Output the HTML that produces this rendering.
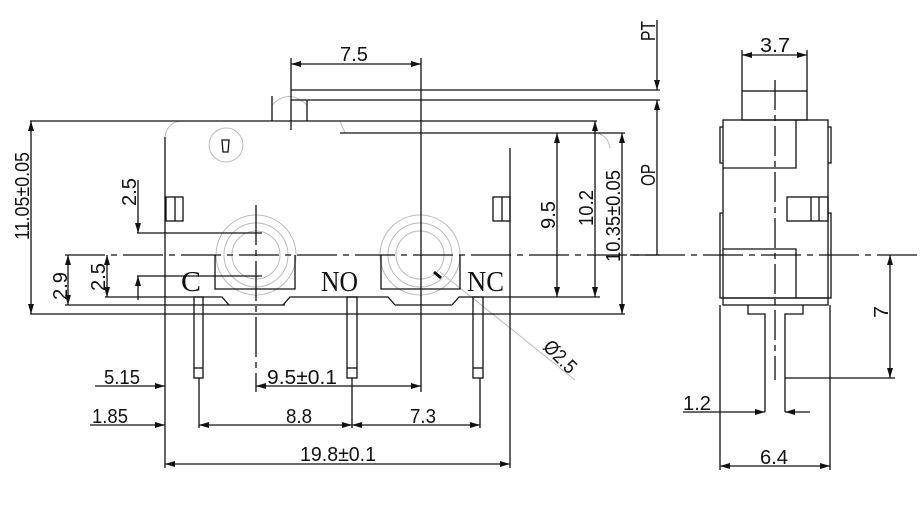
<!DOCTYPE html>
<html><head><meta charset="utf-8"><style>
html,body{margin:0;padding:0;background:#fff;}
svg{display:block;}
text{font-family:"Liberation Sans",sans-serif;font-size:20px;fill:#111;}
text.L{font-family:"Liberation Serif",serif;font-size:28px;}
</style></head><body>
<svg width="920" height="505" viewBox="0 0 920 505" xmlns="http://www.w3.org/2000/svg">
<defs>
<marker id="a" viewBox="0 0 10 6" refX="10" refY="3" markerWidth="10" markerHeight="6" orient="auto-start-reverse" markerUnits="userSpaceOnUse"><path d="M0,0 L10,3 L0,6 z" fill="#111"/></marker>
</defs>
<g stroke="#111" stroke-width="1.3" fill="none">
<g stroke="#bbb" stroke-width="1">
<circle cx="256" cy="255" r="40"/><circle cx="256" cy="255" r="32"/><circle cx="256" cy="255" r="24"/>
<circle cx="420" cy="255" r="40"/><circle cx="420" cy="255" r="32"/><circle cx="420" cy="255" r="24"/>
<circle cx="226" cy="145" r="17"/>
<line x1="440" y1="272" x2="575" y2="380"/>
<path d="M165,137 Q167,123 180,121"/><path d="M340,121 L345,133"/><path d="M597,133 Q608,136 610,148"/>
<path d="M272,105 Q289,88 307,105"/>
</g>
<path d="M222,140 L229,140 L228,152 L223,152 Z"/>
<line x1="30" y1="121" x2="597" y2="121"/>
<line x1="340" y1="133" x2="625" y2="133"/>
<line x1="165" y1="137" x2="165" y2="468"/>
<line x1="510" y1="148" x2="510" y2="468"/>
<path d="M272,121 V96 M307,121 V100"/>
<line x1="291" y1="90" x2="660" y2="90"/>
<line x1="291" y1="100" x2="660" y2="100"/>
<line x1="291" y1="58" x2="291" y2="130"/>
<line x1="421" y1="58" x2="421" y2="392"/>
<line x1="291" y1="64" x2="421" y2="64" marker-start="url(#a)" marker-end="url(#a)"/>
<rect x="166" y="197" width="17" height="24"/><line x1="175" y1="197" x2="175" y2="221"/>
<rect x="493" y="197" width="17" height="24"/><line x1="502" y1="197" x2="502" y2="221"/>
<path d="M215,255 V289 H295 V255"/>
<path d="M381,255 V289 H460 V255"/>
<path d="M105,297 H222 L229,305 M283,305 L290,297 H388 L395,305 M452,305 L459,297 H600"/>
<line x1="65" y1="305" x2="285" y2="305"/>
<line x1="395" y1="305" x2="452" y2="305"/>
<line x1="30" y1="314" x2="625" y2="314"/>
<rect x="194" y="297" width="9" height="81"/><line x1="194" y1="368" x2="203" y2="368"/>
<rect x="347" y="297" width="10" height="81"/><line x1="347" y1="368" x2="357" y2="368"/>
<rect x="473" y="297" width="10" height="81"/><line x1="473" y1="368" x2="483" y2="368"/>
<line x1="65" y1="255" x2="920" y2="255" stroke-dasharray="40,6,6,6"/>
<line x1="256" y1="205" x2="256" y2="392" stroke-dasharray="40,5,6,5"/>
<line x1="775" y1="80" x2="775" y2="380" stroke-dasharray="30,5,6,5"/>
<line x1="31" y1="121" x2="31" y2="314" marker-start="url(#a)" marker-end="url(#a)"/>
<line x1="68" y1="255" x2="68" y2="305" marker-start="url(#a)" marker-end="url(#a)"/>
<line x1="107" y1="255" x2="107" y2="297" marker-start="url(#a)" marker-end="url(#a)"/>
<line x1="137" y1="233" x2="262" y2="233"/>
<line x1="137" y1="276" x2="262" y2="276"/>
<line x1="138" y1="180" x2="138" y2="233" marker-end="url(#a)"/>
<line x1="138" y1="300" x2="138" y2="276" marker-end="url(#a)"/>
<line x1="557" y1="133" x2="557" y2="297" marker-start="url(#a)" marker-end="url(#a)"/>
<line x1="595" y1="121" x2="595" y2="297" marker-start="url(#a)" marker-end="url(#a)"/>
<line x1="622" y1="133" x2="622" y2="314" marker-start="url(#a)" marker-end="url(#a)"/>
<line x1="657" y1="20" x2="657" y2="90" marker-end="url(#a)"/>
<line x1="657" y1="255" x2="657" y2="100" marker-end="url(#a)"/>
<line x1="630" y1="255" x2="660" y2="255"/>
<line x1="199" y1="378" x2="199" y2="428"/>
<line x1="352" y1="378" x2="352" y2="428"/>
<line x1="480" y1="378" x2="480" y2="428"/>
<line x1="95" y1="386" x2="165" y2="386" marker-end="url(#a)"/>
<line x1="256" y1="386" x2="421" y2="386" marker-start="url(#a)" marker-end="url(#a)"/>
<line x1="90" y1="425" x2="165" y2="425" marker-end="url(#a)"/>
<line x1="199" y1="425" x2="352" y2="425" marker-start="url(#a)" marker-end="url(#a)"/>
<line x1="352" y1="425" x2="480" y2="425" marker-start="url(#a)" marker-end="url(#a)"/>
<line x1="165" y1="464" x2="510" y2="464" marker-start="url(#a)" marker-end="url(#a)"/>
<path d="M434,272 L441,278" stroke-width="3"/>
<rect x="742" y="91" width="65" height="29"/>
<line x1="742" y1="50" x2="742" y2="91"/><line x1="807" y1="50" x2="807" y2="91"/>
<line x1="742" y1="55" x2="807" y2="55" marker-start="url(#a)" marker-end="url(#a)"/>
<rect x="723" y="120" width="105" height="178"/>
<path d="M723,168 H796 V120"/>
<path d="M723,249 H796 V298"/>
<path d="M723,127 H720 V163 H723 M828,127 H831 V163 H828 M723,213 H720 V298 H723 M828,213 H831 V298 H828"/>
<rect x="787" y="197" width="41" height="24"/><line x1="811" y1="197" x2="811" y2="221"/><line x1="819" y1="197" x2="819" y2="221"/>
<rect x="723" y="298" width="105" height="7"/>
<path d="M748,305 V314 H765 V378 M803,305 V314 H785 V412"/>
<line x1="765" y1="378" x2="765" y2="412"/>
<line x1="785" y1="378" x2="895" y2="378"/>
<line x1="890" y1="255" x2="890" y2="378" marker-start="url(#a)" marker-end="url(#a)"/>
<line x1="683" y1="412" x2="765" y2="412" marker-end="url(#a)"/>
<line x1="810" y1="412" x2="785" y2="412" marker-end="url(#a)"/>
<line x1="720" y1="305" x2="720" y2="470"/><line x1="830" y1="305" x2="830" y2="470"/>
<line x1="720" y1="466" x2="830" y2="466" marker-start="url(#a)" marker-end="url(#a)"/>
</g>
<g>
<text x="340" y="61" textLength="28" lengthAdjust="spacingAndGlyphs">7.5</text>
<text x="760" y="52" textLength="30" lengthAdjust="spacingAndGlyphs">3.7</text>
<text x="760" y="464" textLength="28" lengthAdjust="spacingAndGlyphs">6.4</text>
<text x="683" y="410" textLength="28" lengthAdjust="spacingAndGlyphs">1.2</text>
<text x="104" y="384" textLength="36" lengthAdjust="spacingAndGlyphs">5.15</text>
<text x="92" y="423" textLength="36" lengthAdjust="spacingAndGlyphs">1.85</text>
<text x="267" y="384" textLength="70" lengthAdjust="spacingAndGlyphs">9.5±0.1</text>
<text x="286" y="423" textLength="26" lengthAdjust="spacingAndGlyphs">8.8</text>
<text x="410" y="423" textLength="26" lengthAdjust="spacingAndGlyphs">7.3</text>
<text x="300" y="461" textLength="76" lengthAdjust="spacingAndGlyphs">19.8±0.1</text>
<text class="L" x="181" y="291" textLength="20" lengthAdjust="spacingAndGlyphs">C</text>
<text class="L" x="321" y="291" textLength="37" lengthAdjust="spacingAndGlyphs">NO</text>
<text class="L" x="467" y="291" textLength="37" lengthAdjust="spacingAndGlyphs">NC</text>
<text transform="translate(29,240) rotate(-90)" textLength="88" lengthAdjust="spacingAndGlyphs">11.05±0.05</text>
<text transform="translate(67,300) rotate(-90)" textLength="28" lengthAdjust="spacingAndGlyphs">2.9</text>
<text transform="translate(105,291) rotate(-90)" textLength="28" lengthAdjust="spacingAndGlyphs">2.5</text>
<text transform="translate(136,206) rotate(-90)" textLength="28" lengthAdjust="spacingAndGlyphs">2.5</text>
<text transform="translate(555,229) rotate(-90)" textLength="28" lengthAdjust="spacingAndGlyphs">9.5</text>
<text transform="translate(593,226) rotate(-90)" textLength="36" lengthAdjust="spacingAndGlyphs">10.2</text>
<text transform="translate(620,262) rotate(-90)" textLength="92" lengthAdjust="spacingAndGlyphs">10.35±0.05</text>
<text transform="translate(655,186) rotate(-90)" textLength="22" lengthAdjust="spacingAndGlyphs">OP</text>
<text transform="translate(655,41) rotate(-90)" textLength="20" lengthAdjust="spacingAndGlyphs">PT</text>
<text transform="translate(888,318) rotate(-90)" textLength="12" lengthAdjust="spacingAndGlyphs">7</text>
<text transform="translate(542,348) rotate(45)" textLength="38" lengthAdjust="spacingAndGlyphs">Ø2.5</text>
</g>
</svg>
</body></html>
